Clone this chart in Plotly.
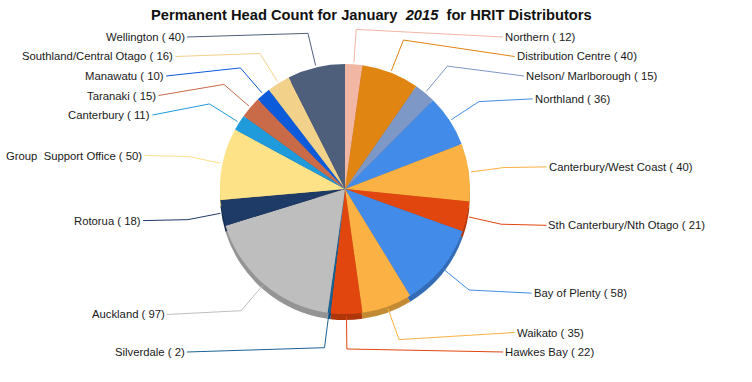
import math
import plotly.graph_objects as go

# ---- data ----
regions = ["Northern", "Distribution Centre", "Nelson/ Marlborough", "Northland",
           "Canterbury/West Coast", "Sth Canterbury/Nth Otago", "Bay of Plenty",
           "Waikato", "Hawkes Bay", "Silverdale", "Auckland", "Rotorua",
           "Group  Support Office", "Canterbury", "Taranaki", "Manawatu",
           "Southland/Central Otago", "Wellington"]
head_count = [12, 40, 15, 36, 40, 21, 58, 35, 22, 2, 97, 18, 50, 11, 15, 10, 16, 40]
colors = ["#F2B6A4", "#E08512", "#7D97C6", "#428BE8", "#FBB143", "#E1460E",
          "#428BE8", "#FBB143", "#E1460E", "#1B6294", "#BEBEBE", "#1E3A66",
          "#FDE287", "#1F9ADA", "#C96A48", "#0C5BDB", "#F2D18B", "#4E5F7C"]
title_text = "Permanent Head Count for January&nbsp; <i>2015</i>&nbsp; for HRIT Distributors"

# ---- layout constants (pixels) ----
W, H = 752, 382
cx, cy, r = 345, 189, 125
depth = 6
font_family = "Liberation Sans, Arial, sans-serif"


def darken(hex_color, f=0.78):
    h = hex_color.lstrip("#")
    rgb = [int(h[i:i + 2], 16) for i in (0, 2, 4)]
    return "#" + "".join(f"{int(c * f):02X}" for c in rgb)


def px_x(x):
    return x / W


def px_y(y):
    return 1 - y / H


def dom(ccx, ccy):
    return dict(x=[px_x(ccx - r), px_x(ccx + r)], y=[px_y(ccy + r), px_y(ccy - r)])


fig = go.Figure()
# rim (3D depth)
fig.add_trace(go.Pie(values=head_count, labels=regions, sort=False, direction="clockwise",
                     rotation=0, textinfo="none", hoverinfo="skip", showlegend=False,
                     marker=dict(colors=[darken(c) for c in colors], line=dict(width=0)),
                     domain=dom(cx, cy + depth)))
# top surface
fig.add_trace(go.Pie(values=head_count, labels=regions, sort=False, direction="clockwise",
                     rotation=0, textinfo="none", hoverinfo="label+value", showlegend=False,
                     marker=dict(colors=colors, line=dict(width=0)),
                     domain=dom(cx, cy)))

# ---- labels with leader lines ----
total = sum(head_count)
mids = []
acc = 0
for v in head_count:
    mids.append(math.radians((acc + v / 2) / total * 360))
    acc += v

R_pref, gap, y_top, y_bot = 165, 19.5, 37, 352
cy_lab = (y_top + y_bot) / 2
Rx_lab, Ry_lab = 203, 251
R_bend = r + 35

items = []
for i, a in enumerate(mids):
    side = 1 if math.sin(a) >= 0 else -1
    items.append(dict(i=i, a=a, side=side, y=cy - R_pref * math.cos(a)))

for side in (1, -1):
    grp = sorted([it for it in items if it["side"] == side], key=lambda d: d["y"])
    prev = None
    for it in grp:
        y = max(it["y"], y_top)
        if prev is not None:
            y = max(y, prev + gap)
        it["y"] = y
        prev = y
    nxt = None
    for it in reversed(grp):
        y = min(it["y"], y_bot)
        if nxt is not None:
            y = min(y, nxt - gap)
        it["y"] = y
        nxt = y

shapes = []
annotations = []
for it in items:
    i, a, side, ly = it["i"], it["a"], it["side"], it["y"]
    dy = ly - cy_lab
    dx = Rx_lab * math.sqrt(max(0.0, 1 - (dy / Ry_lab) ** 2))
    lx = cx + side * dx
    x0, y0 = cx + (r + 2) * math.sin(a), cy - (r + 2) * math.cos(a)
    xb, yb = cx + R_bend * math.sin(a), cy - R_bend * math.cos(a)
    path = (f"M{px_x(x0)},{px_y(y0)} L{px_x(xb)},{px_y(yb)} L{px_x(lx)},{px_y(ly)}")
    shapes.append(dict(type="path", path=path, xref="paper", yref="paper",
                       line=dict(color=colors[i], width=1), layer="above"))
    annotations.append(dict(x=px_x(lx), y=px_y(ly), xref="paper", yref="paper",
                            text=f"{regions[i]} ( {head_count[i]})", showarrow=False,
                            xanchor="left" if side > 0 else "right", yanchor="middle",
                            font=dict(family=font_family, size=11.3, color="#1A1A1A")))

annotations.append(dict(x=px_x(371), y=px_y(15), xref="paper", yref="paper",
                        text=f"<b>{title_text}</b>", showarrow=False,
                        xanchor="center", yanchor="middle",
                        font=dict(family=font_family, size=14.7, color="#111111")))

fig.update_layout(width=W, height=H, margin=dict(l=0, r=0, t=0, b=0),
                  paper_bgcolor="white", plot_bgcolor="white",
                  shapes=shapes, annotations=annotations, showlegend=False)
fig.write_html("out.html", config={"displayModeBar": False},
               post_script="document.body.style.margin='0';document.body.style.padding='0';")
